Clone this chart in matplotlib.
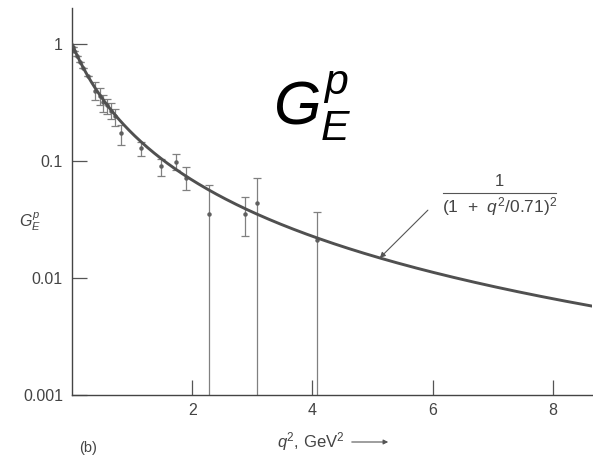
import numpy as np
import matplotlib
matplotlib.use("Agg")
import matplotlib.pyplot as plt

# proton electric form factor G_E^p vs q^2 (GeV^2), with dipole fit
q2 = [0.01, 0.04, 0.08, 0.13, 0.19, 0.26, 0.38, 0.46, 0.52, 0.59, 0.65, 0.71,
      0.82, 1.15, 1.48, 1.73, 1.90, 2.28, 2.88, 3.07, 4.07]
ge = [0.95, 0.87, 0.79, 0.70, 0.62, 0.53, 0.40, 0.36, 0.32, 0.30, 0.27, 0.24,
      0.175, 0.129, 0.090, 0.098, 0.072, 0.035, 0.035, 0.044, 0.021]
ge_lo = [0.95, 0.87, 0.79, 0.70, 0.62, 0.53, 0.33, 0.30, 0.26, 0.25, 0.23, 0.20,
         0.137, 0.110, 0.074, 0.084, 0.056, 0.0005, 0.023, 0.0005, 0.0005]
ge_hi = [0.95, 0.87, 0.79, 0.70, 0.62, 0.53, 0.47, 0.42, 0.37, 0.34, 0.31, 0.28,
         0.205, 0.145, 0.104, 0.115, 0.089, 0.062, 0.049, 0.072, 0.037]
x_ticks = [2, 4, 6, 8]
y_ticks = [1, 0.1, 0.01, 0.001]
y_ticklabels = ["1", "0.1", "0.01", "0.001"]
mass_sq = 0.71

W, H = 593, 459
plt.rcParams['font.family'] = ['Liberation Sans', 'DejaVu Sans']
plt.rcParams['mathtext.fontset'] = 'custom'
plt.rcParams['mathtext.it'] = 'Liberation Sans:italic'
plt.rcParams['mathtext.rm'] = 'Liberation Sans'

fig = plt.figure(figsize=(W / 100, H / 100), dpi=100)
ax = fig.add_axes([72 / W, 1 - 395 / H, (592 - 72) / W, (395 - 8) / H])

grey = "#505050"
q = np.linspace(0, 8.65, 400)
ax.plot(q, 1 / (1 + q / mass_sq) ** 2, color=grey, lw=2.1, zorder=3)

ge = np.array(ge)
yerr = [ge - np.array(ge_lo), np.array(ge_hi) - ge]
ax.errorbar(q2, ge, yerr=yerr, fmt='o', ms=2.2, color="#606060", ecolor="#808080",
            elinewidth=0.9, capsize=2.6, capthick=0.9, zorder=2)

ax.set_yscale('log')
ax.set_xlim(0, 8.65)
ax.set_ylim(0.001, 2.03)
ax.set_xticks(x_ticks)
ax.set_xticklabels([str(t) for t in x_ticks])
ax.set_yticks(y_ticks)
ax.set_yticklabels(y_ticklabels)
ax.yaxis.set_minor_locator(matplotlib.ticker.NullLocator())
for s in ['top', 'right']:
    ax.spines[s].set_visible(False)
for s in ['left', 'bottom']:
    ax.spines[s].set_color("#444444")
    ax.spines[s].set_linewidth(1.0)
ax.tick_params(axis='both', direction='in', length=11, width=0.9, color="#555555",
               labelsize=11.5, labelcolor="#444444")
ax.tick_params(axis='y', pad=6.5)
ax.tick_params(axis='x', pad=6)

# y axis label and panel letter
fig.text(30 / W, 1 - 222 / H, r'$G_E^p$', fontsize=11.5, color="#444444",
         ha='center', va='center')
fig.text(79 / W, 1 - 448 / H, '(b)', fontsize=10.5, color="#444444",
         ha='left', va='center')

# x axis label with arrow
fig.text(277 / W, 1 - 442 / H, r'$q^2$, GeV$^2$', fontsize=12, color="#444444",
         ha='left', va='center')
fig.add_artist(matplotlib.patches.FancyArrowPatch(
    (349 / W, 1 - 442 / H), (391 / W, 1 - 442 / H), transform=fig.transFigure,
    arrowstyle='-|>', mutation_scale=7, color="#555555", lw=0.8))

# big title
fig.text(273 / W, 1 - 125 / H, r'$G_E^p$', fontsize=44, color='black',
         ha='left', va='baseline')

# dipole formula label
fig.text(499 / W, 1 - 182 / H, '1', fontsize=12, color="#444444",
         ha='center', va='center')
fig.text(500 / W, 1 - 207 / H, r'(1  +  $q^2$/0.71)$^2$', fontsize=12.5,
         color="#444444", ha='center', va='center')
fig.add_artist(matplotlib.lines.Line2D([443 / W, 556 / W], [1 - 193 / H, 1 - 193 / H],
                                       transform=fig.transFigure,
                                       color="#555555", lw=0.8))
tip_q = 5.12
ax.annotate('', xy=(tip_q, 1 / (1 + tip_q / mass_sq) ** 2), xytext=(5.92, 0.038),
            arrowprops=dict(arrowstyle='-|>', color="#555555", lw=0.8,
                            mutation_scale=8, shrinkA=0, shrinkB=0))

fig.savefig('out.png', dpi=100, facecolor='white')
